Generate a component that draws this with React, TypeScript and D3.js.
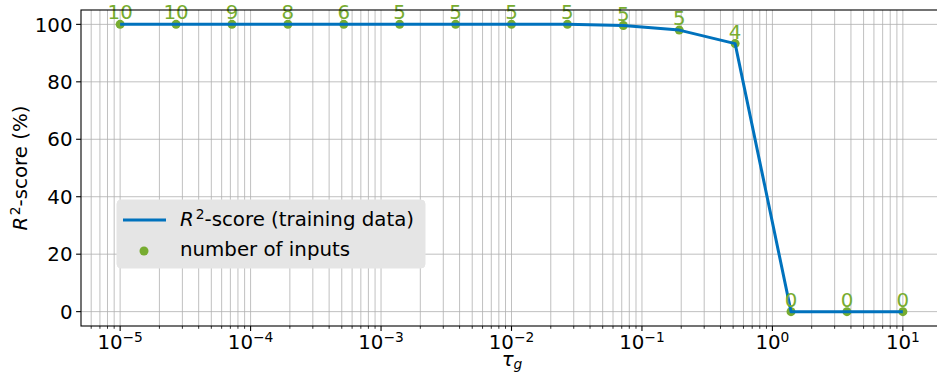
// App.tsx
import React, { useEffect, useRef } from 'react';
import * as d3 from 'd3';

// tau_g values (log spaced)
const tau = [
  1e-5, 2.683e-5, 7.197e-5, 1.931e-4, 5.179e-4, 1.389e-3, 3.728e-3, 1e-2,
  2.683e-2, 7.197e-2, 1.931e-1, 5.179e-1, 1.389, 3.728, 10,
];
// R^2 score (%) on training data
const r2 = [100, 100, 100, 100, 100, 100, 100, 100, 100, 99.6, 98.0, 93.3, 0, 0, 0];
// number of selected inputs
const nInputs = [10, 10, 9, 8, 6, 5, 5, 5, 5, 5, 5, 4, 0, 0, 0];

const xExponents = [-5, -4, -3, -2, -1, 0, 1];
const yTicks = [0, 20, 40, 60, 80, 100];

const BLUE = '#0072BD';
const GREEN = '#77AC30';
const FONT = 'DejaVu Sans';
const FS = 19.8;
const SUP = 13.8;

const App = () => {
  const svgRef = useRef<SVGSVGElement>(null);

  useEffect(() => {
    const width = 937;
    const height = 380;
    const left = 81;
    const right = 942;
    const top = 10;
    const bottom = 326;

    const svg = d3.select(svgRef.current);
    svg.selectAll('*').remove();
    svg.attr('width', width).attr('height', height).style('font-family', FONT);

    const x = d3.scaleLog().domain([Math.pow(10, -5.3), Math.pow(10, 1.3)]).range([left, right]);
    const y = d3.scaleLinear().domain([-5, 105]).range([bottom, top]);

    svg.append('rect').attr('x', 0).attr('y', 0).attr('width', width).attr('height', height).attr('fill', '#fff');

    // minor + major vertical grid
    const [d0, d1] = x.domain();
    const minor: number[] = [];
    for (let e = -6; e <= 1; e++) {
      for (let m = 2; m <= 9; m++) {
        const v = m * Math.pow(10, e);
        if (v > d0 && v < d1) minor.push(v);
      }
    }
    const major = xExponents.map((e) => Math.pow(10, e));

    const grid = svg.append('g').attr('stroke', '#b0b0b0').attr('stroke-width', 0.8);
    grid
      .selectAll('.vminor')
      .data(minor)
      .enter()
      .append('line')
      .attr('x1', (d) => x(d))
      .attr('x2', (d) => x(d))
      .attr('y1', top)
      .attr('y2', bottom);
    grid
      .selectAll('.vmajor')
      .data(major)
      .enter()
      .append('line')
      .attr('x1', (d) => x(d))
      .attr('x2', (d) => x(d))
      .attr('y1', top)
      .attr('y2', bottom);
    grid
      .selectAll('.hmajor')
      .data(yTicks)
      .enter()
      .append('line')
      .attr('x1', left)
      .attr('x2', right)
      .attr('y1', (d) => y(d))
      .attr('y2', (d) => y(d));

    // markers
    svg
      .append('g')
      .selectAll('circle')
      .data(tau)
      .enter()
      .append('circle')
      .attr('cx', (d) => x(d))
      .attr('cy', (d, i) => y(r2[i]))
      .attr('r', 4.5)
      .attr('fill', GREEN);

    // R2 line
    const line = d3
      .line<number>()
      .x((d) => x(d))
      .y((d, i) => y(r2[i]));
    svg
      .append('path')
      .datum(tau)
      .attr('d', line)
      .attr('fill', 'none')
      .attr('stroke', BLUE)
      .attr('stroke-width', 3)
      .attr('stroke-linejoin', 'round');

    // count labels
    svg
      .append('g')
      .selectAll('text')
      .data(tau)
      .enter()
      .append('text')
      .attr('x', (d) => x(d))
      .attr('y', (d, i) => y(r2[i]) - 5)
      .attr('text-anchor', 'middle')
      .attr('font-size', FS)
      .attr('fill', GREEN)
      .text((d, i) => nInputs[i]);

    // spines
    svg
      .append('rect')
      .attr('x', left)
      .attr('y', top)
      .attr('width', right - left)
      .attr('height', bottom - top)
      .attr('fill', 'none')
      .attr('stroke', '#000')
      .attr('stroke-width', 1.1);

    // x ticks
    const xAxis = svg.append('g');
    xAxis
      .selectAll('.minorTick')
      .data(minor)
      .enter()
      .append('line')
      .attr('x1', (d) => x(d))
      .attr('x2', (d) => x(d))
      .attr('y1', bottom)
      .attr('y2', bottom + 2.8)
      .attr('stroke', '#000')
      .attr('stroke-width', 0.8);
    xAxis
      .selectAll('.majorTick')
      .data(major)
      .enter()
      .append('line')
      .attr('x1', (d) => x(d))
      .attr('x2', (d) => x(d))
      .attr('y1', bottom)
      .attr('y2', bottom + 4.9)
      .attr('stroke', '#000')
      .attr('stroke-width', 1.1);
    const xl = xAxis
      .selectAll('.xlabel')
      .data(xExponents)
      .enter()
      .append('text')
      .attr('x', (d) => x(Math.pow(10, d)))
      .attr('y', 349)
      .attr('text-anchor', 'middle')
      .attr('font-size', FS)
      .attr('fill', '#000');
    xl.append('tspan').text('10');
    xl.append('tspan')
      .attr('font-size', SUP)
      .attr('dy', -7)
      .text((d) => (d < 0 ? '\u2212' + -d : String(d)));

    // y ticks
    const yAxis = svg.append('g');
    yAxis
      .selectAll('line')
      .data(yTicks)
      .enter()
      .append('line')
      .attr('x1', left - 4.9)
      .attr('x2', left)
      .attr('y1', (d) => y(d))
      .attr('y2', (d) => y(d))
      .attr('stroke', '#000')
      .attr('stroke-width', 1.1);
    yAxis
      .selectAll('text')
      .data(yTicks)
      .enter()
      .append('text')
      .attr('x', left - 8.5)
      .attr('y', (d) => y(d) + 7.2)
      .attr('text-anchor', 'end')
      .attr('font-size', FS)
      .attr('fill', '#000')
      .text((d) => d);

    // axis labels
    const xt = svg
      .append('text')
      .attr('x', 512)
      .attr('y', 366)
      .attr('text-anchor', 'middle')
      .attr('font-size', FS)
      .attr('fill', '#000');
    xt.append('tspan').attr('font-style', 'italic').text('\u03c4');
    xt.append('tspan').attr('font-style', 'italic').attr('font-size', SUP).attr('dy', 3).text('g');

    const yt = svg
      .append('text')
      .attr('transform', `translate(27,${(top + bottom) / 2}) rotate(-90)`)
      .attr('text-anchor', 'middle')
      .attr('font-size', FS)
      .attr('fill', '#000');
    yt.append('tspan').attr('font-style', 'italic').text('R');
    yt.append('tspan').attr('font-size', SUP).attr('dx', 1.5).attr('dy', -7).text('2');
    yt.append('tspan').attr('dy', 7).text('-score (%)');

    // legend
    const lg = svg.append('g');
    lg.append('rect')
      .attr('x', 117)
      .attr('y', 200)
      .attr('width', 308)
      .attr('height', 68)
      .attr('rx', 4)
      .attr('fill', '#e5e5e5')
      .attr('stroke', '#e5e5e5');
    lg.append('line')
      .attr('x1', 123)
      .attr('x2', 166)
      .attr('y1', 220)
      .attr('y2', 220)
      .attr('stroke', BLUE)
      .attr('stroke-width', 3);
    const t1 = lg.append('text').attr('x', 180).attr('y', 226).attr('font-size', FS).attr('fill', '#000');
    t1.append('tspan').attr('font-style', 'italic').text('R');
    t1.append('tspan').attr('font-size', SUP).attr('dx', 2).attr('dy', -7).text('2');
    t1.append('tspan').attr('dy', 7).text('-score (training data)');
    lg.append('circle').attr('cx', 144).attr('cy', 251).attr('r', 4.5).attr('fill', GREEN);
    lg.append('text')
      .attr('x', 180)
      .attr('y', 256)
      .attr('font-size', FS)
      .attr('fill', '#000')
      .text('number of inputs');
  }, []);

  return <svg ref={svgRef} style={{ position: 'absolute', left: 0, top: 0, display: 'block' }}></svg>;
};

export default App;
